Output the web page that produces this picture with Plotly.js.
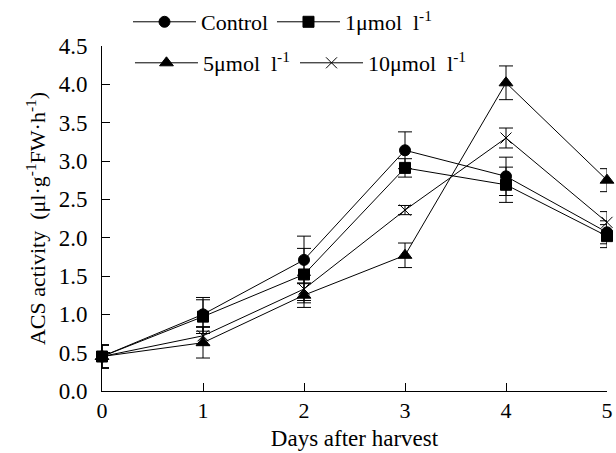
<!DOCTYPE html>
<html>
<head>
<meta charset="utf-8">
<script src="https://cdn.plot.ly/plotly-3.0.1.min.js"></script>
<style>html,body{margin:0;padding:0;background:#fff;}#chart{width:616px;height:453px;}</style>
</head>
<body>
<div id="chart"></div>
<script>
var days = [0, 1, 2, 3, 4, 5];
var controlVals = [0.45, 1.00, 1.71, 3.14, 2.80, 2.07];
var controlErr  = [0.15, 0.22, 0.31, 0.24, 0.25, 0.15];
var um1Vals = [0.45, 0.97, 1.52, 2.91, 2.69, 2.02];
var um1Err  = [0.15, 0.22, 0.34, 0.12, 0.23, 0.15];
var um5Vals = [0.45, 0.63, 1.25, 1.77, 4.02, 2.75];
var um5Err  = [0.15, 0.20, 0.16, 0.16, 0.22, 0.15];
var um10Vals = [0.45, 0.72, 1.33, 2.36, 3.30, 2.20];
var um10Err  = [0.15, 0.12, 0.18, 0.06, 0.13, 0.14];
var yTicks = [0, 0.5, 1, 1.5, 2, 2.5, 3, 3.5, 4, 4.5];
var xTicks = [0, 1, 2, 3, 4, 5];

var FONT = 'Liberation Serif';
function mk(name, y, err, symbol, size, legend) {
  return {
    x: days, y: y, name: name, type: 'scatter', mode: 'lines+markers',
    line: {color: '#000', width: 1},
    marker: {symbol: symbol, size: size, color: '#000', line: {color: '#000', width: 1}},
    error_y: {type: 'data', array: err, visible: true, color: '#000', thickness: 1, width: 7},
    cliponaxis: false, legend: legend
  };
}
var data = [
  mk('Control', controlVals, controlErr, 'circle', 11, 'legend'),
  mk('1μmol  l<sup>-1</sup>', um1Vals, um1Err, 'square', 11, 'legend2'),
  mk('5μmol  l<sup>-1</sup>', um5Vals, um5Err, 'triangle-up', 12, 'legend3'),
  mk('10μmol  l<sup>-1</sup>', um10Vals, um10Err, 'x-thin-open', 11, 'legend4')
];
function leg(x, y) {
  return {orientation: 'h', x: x, y: y, xanchor: 'left', yanchor: 'middle',
    itemwidth: 63, font: {family: FONT, size: 22}, bgcolor: 'rgba(0,0,0,0)'};
}
var layout = {
  width: 616, height: 453,
  margin: {l: 102, r: 9, t: 46, b: 62, autoexpand: false},
  paper_bgcolor: '#fff', plot_bgcolor: '#fff',
  font: {family: FONT, color: '#000', size: 22},
  showlegend: true,
  legend: leg(0.0515, 1.0696),
  legend2: leg(0.3366, 1.0696),
  legend3: leg(0.0554, 0.9507),
  legend4: leg(0.3822, 0.9507),
  xaxis: {
    range: [0, 5], tickvals: xTicks, ticktext: xTicks.map(String),
    ticks: 'inside', ticklen: 8, tickcolor: '#000',
    showline: true, linecolor: '#000', linewidth: 1, showgrid: false, zeroline: false,
    tickfont: {family: FONT, size: 22},
    title: {text: 'Days after harvest', font: {family: FONT, size: 23}, standoff: 7}
  },
  yaxis: {
    range: [0, 4.5], tickvals: yTicks, ticktext: yTicks.map(function(v){return v.toFixed(1);}),
    ticks: 'inside', ticklen: 8, tickcolor: '#000', ticklabelstandoff: 9,
    showline: true, linecolor: '#000', linewidth: 1, showgrid: false, zeroline: false,
    tickfont: {family: FONT, size: 23},
    title: {text: 'ACS activity  (μl·g<sup>-1</sup>FW·h<sup>-1</sup>)', font: {family: FONT, size: 22}, standoff: 6}
  }
};
Plotly.newPlot('chart', data, layout, {staticPlot: true, displayModeBar: false});
</script>
</body>
</html>
